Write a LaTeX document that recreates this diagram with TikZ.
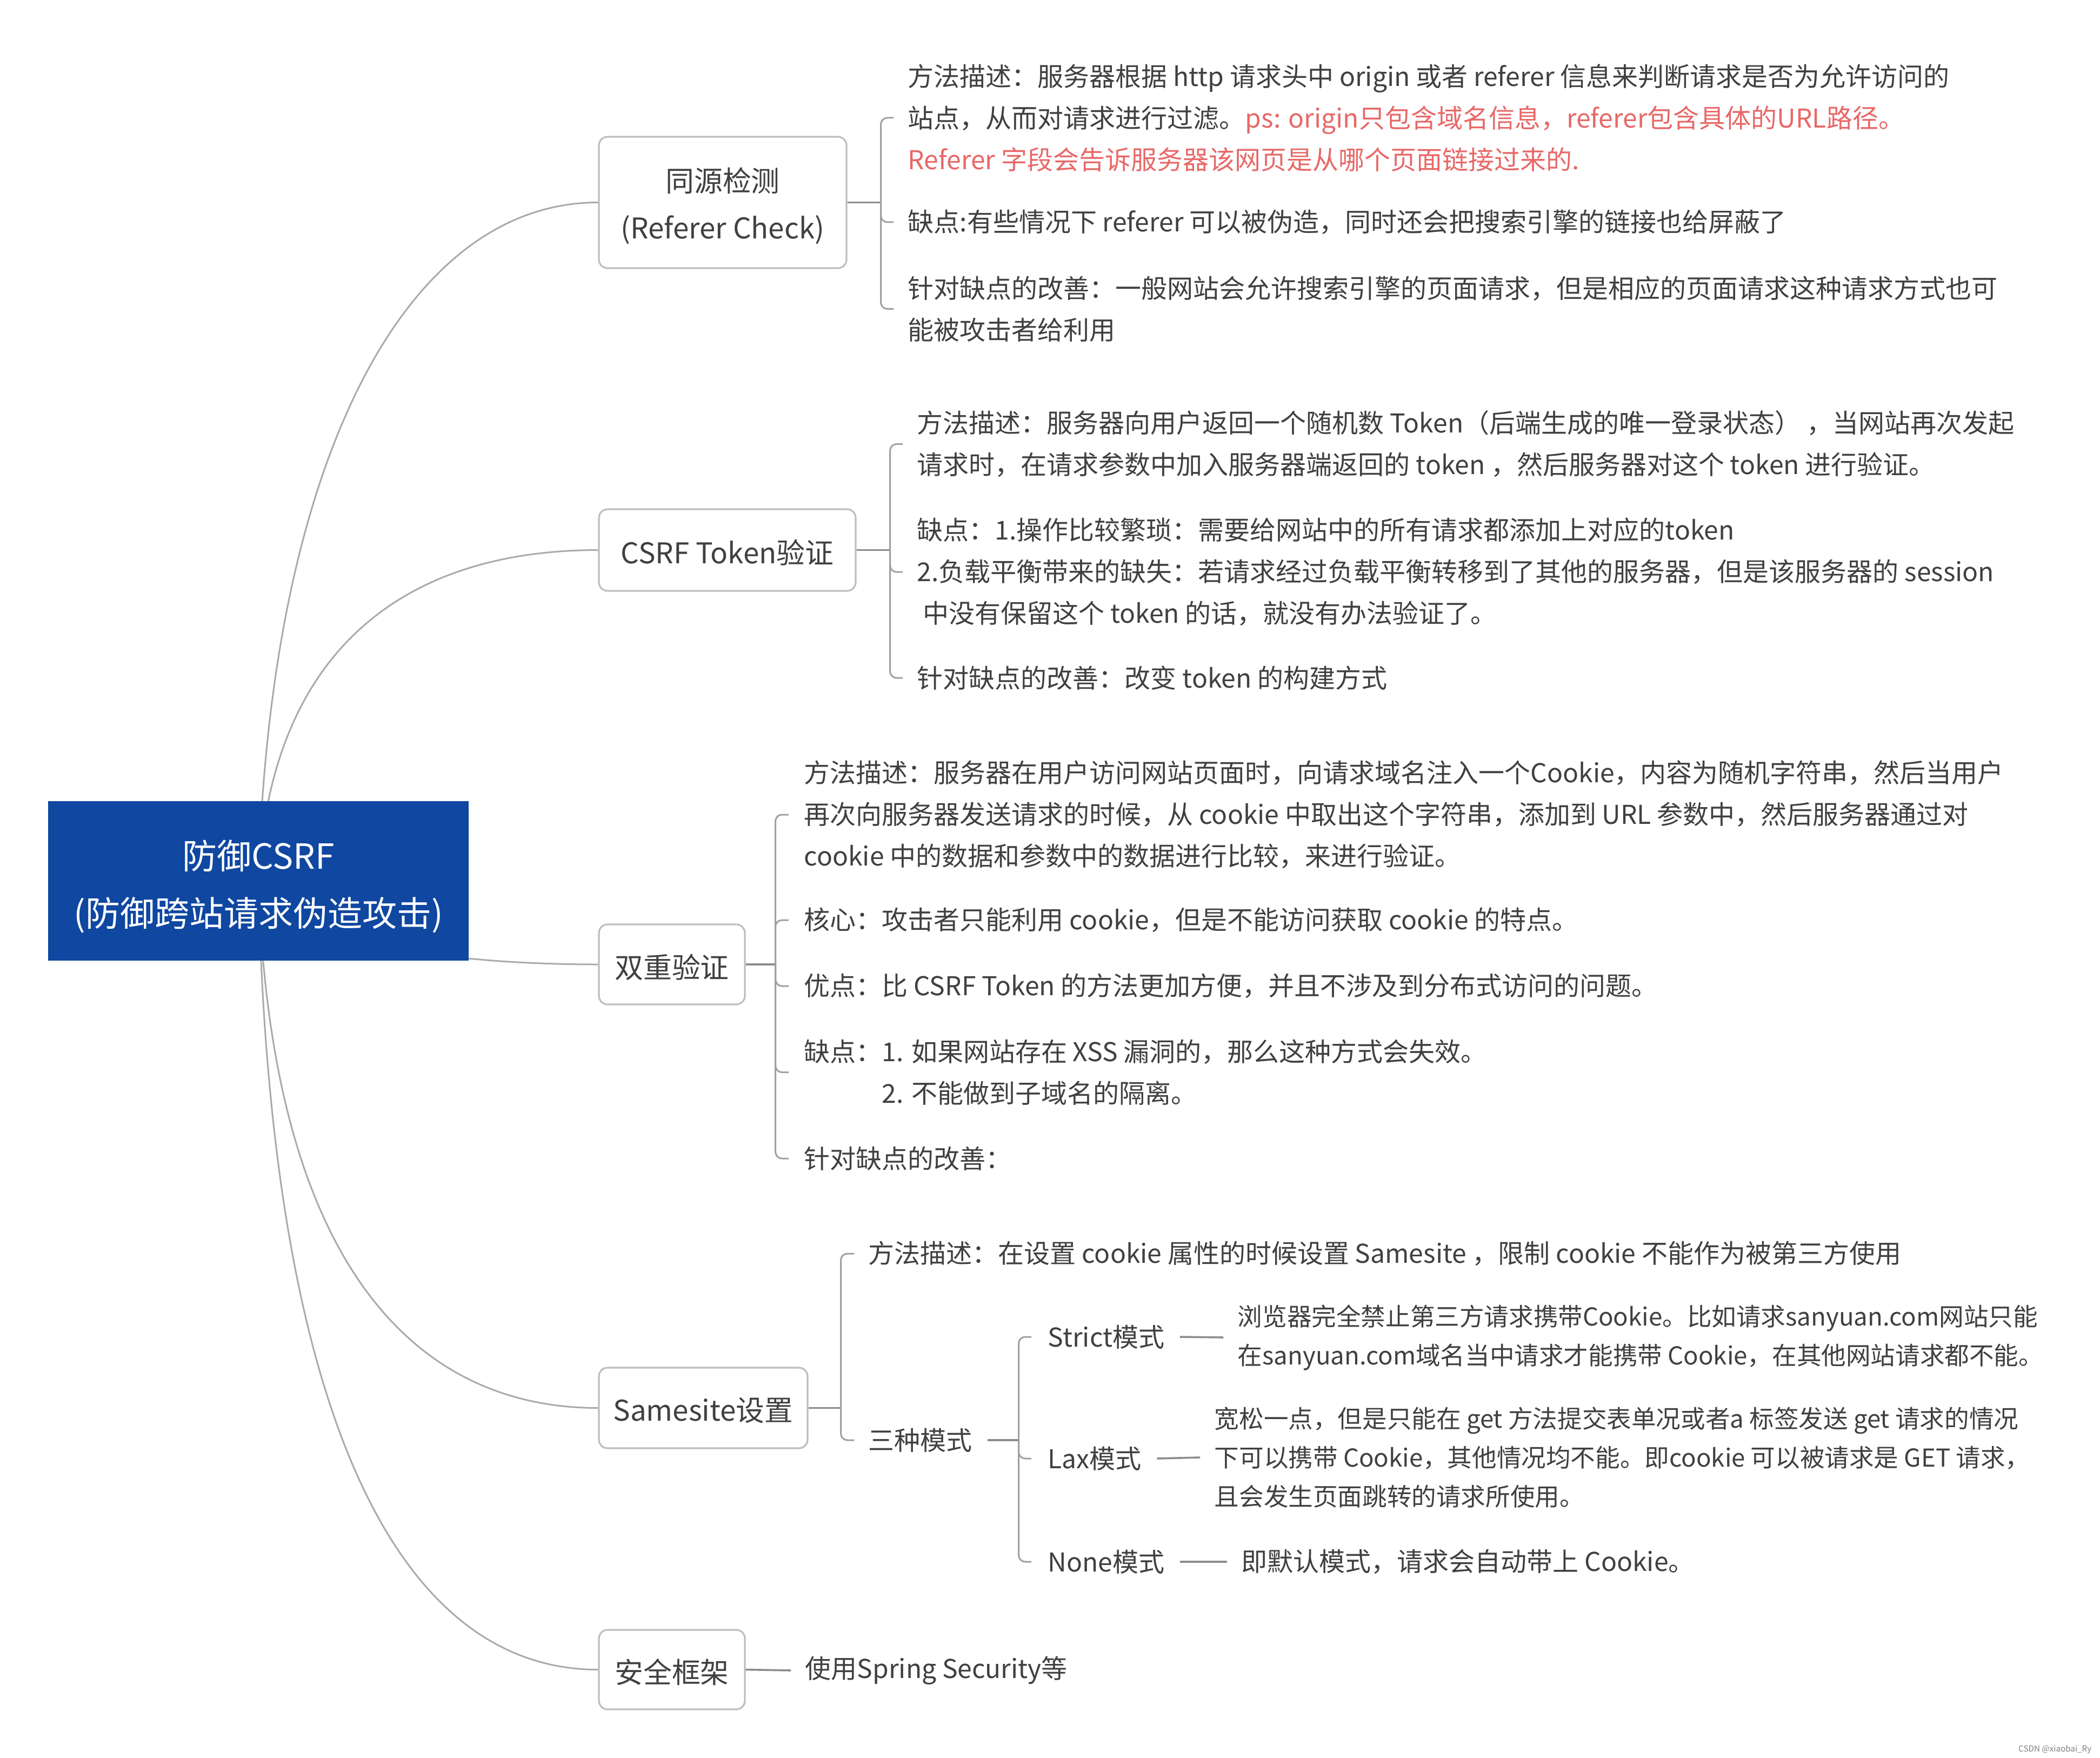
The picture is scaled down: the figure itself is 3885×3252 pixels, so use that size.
\documentclass[tikz,border=0pt]{standalone}
\usepackage{fontspec}
\setmainfont{Noto Sans CJK SC}
\usetikzlibrary{backgrounds}
\definecolor{rootblue}{RGB}{15,71,161}
\definecolor{txt}{RGB}{64,64,64}
\definecolor{redtxt}{RGB}{232,104,104}
\definecolor{boxgray}{RGB}{190,190,190}
\definecolor{curvegray}{RGB}{170,170,170}
\definecolor{linegray}{RGB}{160,160,160}
\definecolor{stemgray}{RGB}{140,140,140}
\begin{document}
\begin{tikzpicture}[x=0.25pt,y=-0.25pt,
  leaf/.style={anchor=west, inner sep=0pt, align=left, text=txt, font=\fontsize{12}{19.25}\selectfont},
  leafs/.style={leaf, font=\fontsize{11.4}{18}\selectfont},
  branch/.style={draw=boxgray, line width=0.8pt, rounded corners=4pt, fill=white, inner sep=0pt},
  btext/.style={text=txt, font=\fontsize{13.2}{21.75}\selectfont, align=center, inner sep=0pt},
  rootbox/.style={fill=rootblue, minimum width=194.5pt, minimum height=73.75pt, inner sep=0pt},
  roottext/.style={text=white, font=\fontsize{16}{26.5}\selectfont, align=center, inner sep=0pt},
  curve/.style={draw=curvegray, line width=0.75pt},
  elbow/.style={draw=linegray, line width=0.75pt, rounded corners=3pt},
  stem/.style={draw=stemgray, line width=0.9pt}]
\useasboundingbox (0,0) rectangle (3885,3252);

% root and branches
\node[rootbox] (root) at (478,1629.5) {};
\node[roottext] (roott) at ([yshift=-2.5pt]root.center) {防御CSRF\\(防御跨站请求伪造攻击)};
\node[branch, minimum width=114.5pt, minimum height=60.75pt] (b1) at (1337,374.5) {};
\node[branch, minimum width=118.75pt, minimum height=37.75pt] (b2) at (1345.5,1017.5) {};
\node[branch, minimum width=67.5pt, minimum height=37pt] (b3) at (1243,1784) {};
\node[branch, minimum width=96.5pt, minimum height=37.25pt] (b4) at (1301,2604.5) {};
\node[branch, minimum width=67.5pt, minimum height=36.75pt] (b5) at (1243,3088.5) {};
\node[btext] (b1t) at ([yshift=-1.6pt]b1.center) {同源检测\\(Referer Check)};
\node[btext] (b2t) at ([yshift=-1.2pt]b2.center) {CSRF Token验证};
\node[btext] (b3t) at ([yshift=-1.2pt]b3.center) {双重验证};
\node[btext] (b4t) at ([yshift=-1.2pt]b4.center) {Samesite设置};
\node[btext] (b5t) at ([yshift=-1.2pt]b5.center) {安全框架};

\begin{scope}[on background layer]
\fill[white] (0,0) rectangle (3885,3252);
\draw[curve] (root.center) .. controls (500,852) and (750,374.5) .. (b1.west);
\draw[curve] (root.center) .. controls (500,1201) and (750,1017.5) .. (b2.west);
\draw[curve] (root.center) .. controls (500,1719) and (750,1784) .. (b3.west);
\draw[curve] (root.center) .. controls (500,2312) and (750,2604.5) .. (b4.west);
\draw[curve] (root.center) .. controls (500,2651) and (750,3088.5) .. (b5.west);
\end{scope}

% group 1
\path (b1.east) ++(62,0) coordinate (j1);
\draw[stem] (b1.east) -- (j1);
\node[leaf] (c11) at (1679,218) {方法描述：服务器根据 http 请求头中 origin 或者 referer 信息来判断请求是否为允许访问的\\站点，从而对请求进行过滤。\textcolor{redtxt}{ps: origin只包含域名信息，referer包含具体的URL路径。}\\\textcolor{redtxt}{Referer 字段会告诉服务器该网页是从哪个页面链接过来的.}};
\node[leaf] (c12) at (1679,411) {缺点:有些情况下 referer 可以被伪造，同时还会把搜索引擎的链接也给屏蔽了};
\node[leaf] (c13) at (1679,571.5) {针对缺点的改善：一般网站会允许搜索引擎的页面请求，但是相应的页面请求这种请求方式也可\\能被攻击者给利用};
\draw[elbow] (j1) |- ([xshift=-6.5pt]c11.west);
\draw[elbow] (j1) |- ([xshift=-6.5pt]c12.west);
\draw[elbow] (j1) |- ([xshift=-6.5pt]c13.west);

% group 2
\path (b2.east) ++(62,0) coordinate (j2);
\draw[stem] (b2.east) -- (j2);
\node[leaf] (c21) at (1696,821.5) {方法描述：服务器向用户返回一个随机数 Token（后端生成的唯一登录状态） ，当网站再次发起\\请求时，在请求参数中加入服务器端返回的 token ，然后服务器对这个 token 进行验证。};
\node[leaf] (c22) at (1696,1058) {缺点：1.操作比较繁琐：需要给网站中的所有请求都添加上对应的token\\2.负载平衡带来的缺失：若请求经过负载平衡转移到了其他的服务器，但是该服务器的 session\\\ 中没有保留这个 token 的话，就没有办法验证了。};
\node[leaf] (c23) at (1696,1254) {针对缺点的改善：改变 token 的构建方式};
\draw[elbow] (j2) |- ([xshift=-6.5pt]c21.west);
\draw[elbow] (j2) |- ([xshift=-6.5pt]c22.west);
\draw[elbow] (j2) |- ([xshift=-6.5pt]c23.west);

% group 3
\path (b3.east) ++(55,0) coordinate (j3);
\draw[stem] (b3.east) -- (j3);
\node[leaf] (c31) at (1487,1507) {方法描述：服务器在用户访问网站页面时，向请求域名注入一个Cookie，内容为随机字符串，然后当用户\\再次向服务器发送请求的时候，从 cookie 中取出这个字符串，添加到 URL 参数中，然后服务器通过对\\cookie 中的数据和参数中的数据进行比较，来进行验证。};
\node[leaf] (c32) at (1487,1702) {核心：攻击者只能利用 cookie，但是不能访问获取 cookie 的特点。};
\node[leaf] (c33) at (1487,1824) {优点：比 CSRF Token 的方法更加方便，并且不涉及到分布式访问的问题。};
\node[leaf] (c34) at (1487,1983.5) {缺点：1. 如果网站存在 XSS 漏洞的，那么这种方式会失效。\\\hphantom{缺点：}2. 不能做到子域名的隔离。};
\node[leaf] (c35) at (1487,2143) {针对缺点的改善：};
\foreach \c in {c31,c32,c33,c34,c35} \draw[elbow] (j3) |- ([xshift=-7pt]\c.west);

% group 4
\path (b4.east) ++(60,0) coordinate (j4);
\draw[stem] (b4.east) -- (j4);
\node[leaf] (c41) at (1606,2319) {方法描述：在设置 cookie 属性的时候设置 Samesite ，限制 cookie 不能作为被第三方使用};
\node[leaf] (c42) at (1606,2664) {三种模式};
\draw[elbow] (j4) |- ([xshift=-6.5pt]c41.west);
\draw[elbow] (j4) |- ([xshift=-6.5pt]c42.west);
\path (c42.east) ++(85,0) coordinate (j5);
\draw[stem] ([xshift=6.75pt]c42.east) -- (j5);
\node[leaf] (m1) at (1938,2473) {Strict模式};
\node[leaf] (m2) at (1938,2698) {Lax模式};
\node[leaf] (m3) at (1938,2889) {None模式};
\draw[elbow] (j5) |- ([xshift=-7.5pt]m1.west);
\draw[elbow] (j5) |- ([xshift=-7.5pt]m2.west);
\draw[elbow] (j5) |- ([xshift=-7.5pt]m3.west);
\node[leafs] (d1) at (2289,2474) {浏览器完全禁止第三方请求携带Cookie。比如请求sanyuan.com网站只能\\在sanyuan.com域名当中请求才能携带 Cookie，在其他网站请求都不能。};
\node[leafs] (d2) at (2246,2696) {宽松一点，但是只能在 get 方法提交表单况或者a 标签发送 get 请求的情况\\下可以携带 Cookie，其他情况均不能。即cookie 可以被请求是 GET 请求，\\且会发生页面跳转的请求所使用。};
\node[leaf] (d3) at (2296,2889) {即默认模式，请求会自动带上 Cookie。};
\draw[stem] ([xshift=7pt]m1.east) -- ([xshift=-6.5pt]d1.west);
\draw[stem] ([xshift=7pt]m2.east) -- ([xshift=-6.5pt]d2.west);
\draw[stem] ([xshift=7pt]m3.east) -- ([xshift=-6.5pt]d3.west);

% group 5
\node[leaf] (c51) at (1489,3090) {使用Spring Security等};
\draw[stem] (b5.east) -- ([xshift=-6.5pt]c51.west);

% watermark
\node[anchor=east, inner sep=0pt, text=gray, font=\fontsize{3.8}{4.5}\selectfont] (wm) at (3870,3236) {CSDN @xiaobai\_Ry};
\end{tikzpicture}
\end{document}
